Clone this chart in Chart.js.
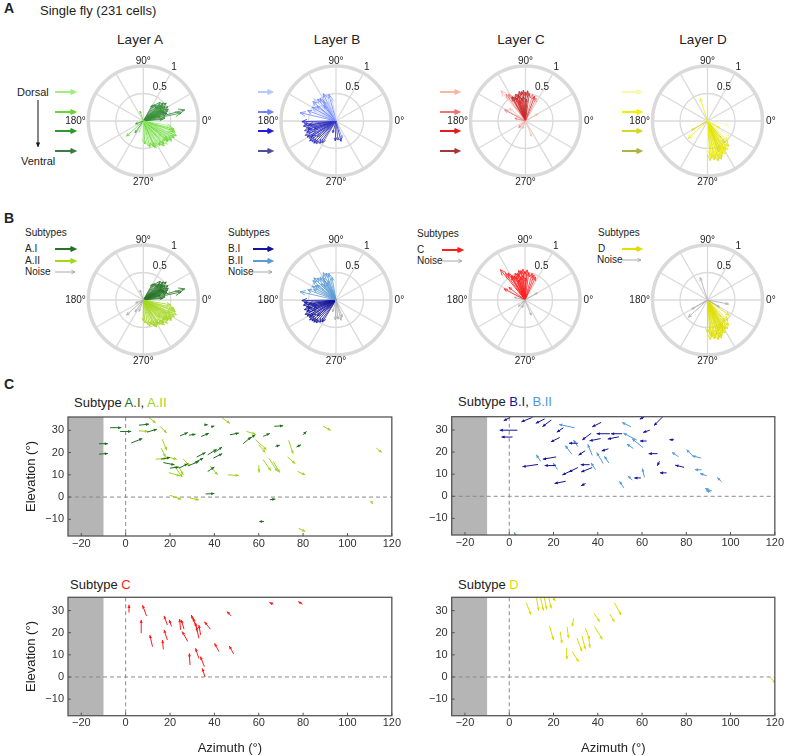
<!DOCTYPE html>
<html>
<head>
<meta charset="utf-8">
<title>Single fly receptive fields</title>
<script src="https://cdn.jsdelivr.net/npm/chart.js@4.4.1/dist/chart.umd.min.js"></script>
<style>
  body { margin: 0; background: #fff; }
  #fig { position: relative; width: 785px; height: 756px; overflow: hidden; font-family: "Liberation Sans", Arial, sans-serif; color: #222; }
  #fig canvas { position: absolute; }
  .lbl { position: absolute; white-space: nowrap; }
</style>
</head>
<body>
<div id="fig"></div>
<script>
// polar arrows: [direction (deg), length, depth sublayer 0 = dorsal .. 3 = ventral, subtype 0 = I, 1 = II, 2 = noise]
const layerA = [
  [15,0.78,3,0],[12,0.70,2,0],[18,0.45,3,0],[22,0.48,2,0],[25,0.50,3,0],[28,0.42,2,0],[30,0.52,2,0],[33,0.47,3,0],
  [35,0.40,2,0],[38,0.53,3,0],[40,0.44,2,0],[42,0.49,3,0],[45,0.41,2,0],[48,0.46,2,0],[52,0.38,3,0],[56,0.36,2,0],
  [60,0.33,3,0],[20,0.43,3,0],[27,0.39,2,0],[36,0.45,2,0],[44,0.37,3,0],[31,0.35,2,0],[24,0.41,3,0],[16,0.32,2,0],
  [5,0.35,2,0],[8,0.40,3,0],
  [-10,0.50,0,1],[-15,0.58,1,1],[-20,0.62,0,1],[-24,0.66,1,1],[-28,0.64,1,1],[-32,0.60,0,1],[-36,0.63,0,1],
  [-40,0.58,1,1],[-44,0.61,0,1],[-48,0.56,1,1],[-52,0.57,0,1],[-56,0.54,1,1],[-60,0.52,0,1],[-64,0.55,0,1],
  [-68,0.50,1,1],[-72,0.47,0,1],[-76,0.49,1,1],[-80,0.45,0,1],[-18,0.60,1,1],[-26,0.55,0,1],[-34,0.62,1,1],
  [-42,0.52,0,1],[-50,0.59,1,1],[-58,0.50,0,1],[-66,0.53,1,1],[-30,0.48,0,1],[-38,0.57,1,1],[-46,0.44,0,1],
  [-86,0.42,1,1],[-90,0.38,0,1],
  [222,0.41,1,2],[235,0.26,2,2],[108,0.19,1,2],[250,0.22,0,2],[200,0.15,2,2]
];
const layerB = [
  [181,0.62,2,0],[185,0.58,3,0],[189,0.60,2,0],[193,0.55,3,0],[197,0.60,3,0],[201,0.57,2,0],[205,0.62,3,0],
  [209,0.60,2,0],[213,0.58,3,0],[217,0.60,2,0],[221,0.58,3,0],[225,0.57,2,0],[229,0.55,3,0],[234,0.50,2,0],
  [238,0.47,3,0],[188,0.50,2,0],[196,0.53,2,0],[204,0.48,3,0],[212,0.52,2,0],[220,0.45,3,0],[192,0.44,3,0],
  [200,0.42,2,0],
  [100,0.42,0,1],[105,0.50,1,1],[110,0.52,0,1],[115,0.55,1,1],[120,0.48,0,1],[125,0.50,1,1],[130,0.52,1,1],
  [135,0.57,0,1],[140,0.55,1,1],[145,0.46,0,1],[150,0.50,1,1],[155,0.45,0,1],[160,0.55,1,1],[167,0.67,1,1],
  [112,0.38,0,1],[122,0.42,1,1],[132,0.40,0,1],[142,0.44,1,1],[118,0.35,0,1],[128,0.36,1,1],
  [268,0.36,2,2],[276,0.35,3,2],[284,0.38,2,2],[290,0.33,1,2],[255,0.22,2,2]
];
const layerC = [
  [82,0.50,3,0],[86,0.55,2,0],[90,0.52,2,0],[94,0.56,3,0],[98,0.54,2,0],[102,0.55,3,0],[106,0.50,2,0],
  [110,0.52,2,0],[114,0.48,3,0],[118,0.50,2,0],[122,0.58,1,0],[126,0.60,1,0],[129,0.71,0,0],[95,0.45,3,0],
  [100,0.42,2,0],[105,0.48,3,0],[112,0.44,2,0],[120,0.50,3,0],[75,0.50,1,0],[70,0.48,2,0],[65,0.46,1,0],
  [88,0.40,3,0],[108,0.38,2,0],[142,0.37,0,0],[152,0.43,1,0],
  [30,0.26,0,2],[292,0.30,0,2],[224,0.17,1,2],[166,0.20,1,2],[250,0.15,0,2]
];
const layerD = [
  [-45,0.52,1,0],[-50,0.60,2,0],[-55,0.64,1,0],[-58,0.62,2,0],[-62,0.68,1,0],[-65,0.66,2,0],[-68,0.70,1,0],
  [-70,0.74,2,0],[-72,0.72,1,0],[-75,0.75,2,0],[-78,0.70,1,0],[-80,0.72,2,0],[-83,0.68,1,0],[-86,0.72,2,0],
  [-90,0.60,0,0],[-60,0.55,1,0],[-66,0.58,2,0],[-74,0.64,1,0],[-52,0.50,2,0],[-35,0.48,0,0],[-84,0.65,1,0],
  [-70,0.60,2,0],[-63,0.62,1,0],
  [108,0.43,1,2],[222,0.47,1,2],[-11,0.39,0,2],[210,0.33,2,2],[-30,0.25,1,2]
];

// quiver arrows: [azimuth (deg), elevation (deg), d azimuth, d elevation]
const quivAI = [
  [-7,31.2,5,0],[-12,24,4,0],[-12,19.3,4,0.3],[-2.5,29.5,5,0],[2.5,24.3,5,2],[6,32.3,4.5,0.5],[9.6,29.2,4.5,1.3],
  [24.5,27.5,3.5,1.5],[28.5,27.8,3,0.5],[34,27.2,3.5,1.5],[35.5,32.5,1.5,0],[38.5,31.5,1.5,0.5],[32,18,4,2],
  [37,19,4,2.5],[40,20,3.5,2.5],[39.5,17.5,4,2],[24,13,4,2],[28,14,5,2],[31,15.5,4,2],[17,15.5,5,-1],[20,13,4,0.5],
  [37,11.5,3,2],[36,1.4,4,0.2],[47,28,4,0.8],[53,24,3.5,3],[55.5,26,3,2],[62,27.3,3,1.3],[67,31.8,4,0.3],
  [67.5,22.8,2,0.5],[77,22.5,2,1],[80,28,1.5,1.5],[65,-1.2,2.5,0.3],[60.3,-11,2,0],[16,17,4,0.8]
];
const quivAII = [
  [10.5,35.8,3,-2.5],[15.5,31.8,3,-3],[16.5,26,2,-5],[16,22,2,-4],[13.5,17,5,0.5],[19,18,4,-1],[19.5,11,5,-1.5],
  [22,14,3.5,-5],[26,17,3,-3],[20,0.8,5,-1.8],[29,-0.4,4,-0.9],[38,14,3.5,-4],[46,10,5,-0.3],[43.5,35.6,3.5,-2.5],
  [54.5,29.5,4,-1.2],[58.5,25.8,5,-4.5],[60,23.5,3,-3.5],[62,16.8,3.5,-5],[64.5,17.5,4,-6],[66.5,16,3,-5],
  [60,14.3,0.2,-3.3],[73.5,25.5,2,-6],[73,18,3.5,-3],[77.5,11.5,3.5,-1.5],[89,31.8,3.5,-1.8],[113,22,2.5,-2],
  [111,-2.5,0.3,-0.6],[78,-14,3,-1.5],[24,13.5,2,-3.5],[6,29.8,4,-0.3]
];
const quivBI = [
  [0.5,35.7,-3,-1.5],[3.7,29.9,-8,0],[1.5,26.8,-5,0],[10.5,35.7,-5,-2],[16,35,-4,-2],[19,34.5,-4,-3],[24.5,31,-3,-2],
  [22.8,26.6,-4,-2],[31,24,-4,0],[34.3,20.6,-3,-2],[37,28.5,-4,-3],[41.5,33.4,-4,-2],[41.3,26.1,-5,-1],[45.5,28.3,-6,0],
  [51,28.3,-5,0],[49.5,26.9,-5,-1],[62.1,25,-3,0],[61,35.9,-2,-1],[69.4,36,-4,-4],[63.5,29.9,-3,-1],[67,19.3,-4,0],
  [67.9,15.8,-1,-2],[71.1,10.6,-3,0],[74.4,25.6,-2,0],[79,13.1,-4,1],[13,14.4,-7,-1],[21,13.9,-5,0],[21.2,17.8,-6,-1],
  [25.5,6.8,-5,-1],[28,11.6,-4,-2],[31,13,-4,-2],[37.5,13,-5,-2],[34.5,5.8,-2,-1],[36.3,14.3,-4,0],[44.8,21.5,-3,-1],
  [59.5,8.3,-3,0]
];
const quivBII = [
  [29.5,31,-7,1.5],[28.3,19,-3,4],[37.5,18.5,-2,5],[57.6,25.5,-6,3],[55,31.4,-4,2],[60.5,22,-5,4],[56.1,21.6,-3,2],
  [76.5,17.9,-3,2],[83.1,18.1,-3,3],[86.7,17.3,-4,1],[86.9,12,-3,0],[89.2,9.3,-3,1],[91.5,2.5,-3,1],[91,2,-2,0.5],
  [96,6.5,-2,2],[14.2,15.8,-2,3],[21.8,12.1,-2,3],[39,12.1,-2,3],[42.5,14.8,-3,5],[45,15.1,-2,3],[51.8,3.8,-2,3],
  [55.6,7.3,-2,2],[61.1,8.6,-1,4],[3.2,-18.3,-1,2],[31,22.5,-2,3]
];
const quivC = [
  [1.5,29.1,0,3.5],[9.4,27.6,-1.8,4.8],[7,19.8,0,6],[12.1,13.7,-1.2,5.3],[17,12.5,-0.4,4.2],[18.8,16.7,-1.5,4.6],
  [18.8,23.5,-1.5,4.1],[20.7,22.8,-1.1,3],[24.8,21.3,-0.5,4.9],[26.3,21.6,-1.2,4.2],[28,16,-2.5,4.5],[29,5.4,-0.3,5.3],
  [33,8.4,-1.5,4.6],[35.5,4.7,-1.8,4.5],[35.8,0,-1.3,3.9],[30.7,25,-1.1,3],[31.5,22.8,-1,3.8],[33,17.5,-1.1,5.3],
  [33.8,19,-0.8,4.5],[38.2,21.6,-2.7,3.4],[42,11.5,-1.9,3.7],[48.7,10.4,-2,3.6],[47.5,27.6,-1.8,2],[66.6,32.9,-1.8,0.7],
  [79.7,32.9,-1.9,1.2],[32.2,20.5,-0.7,4]
];
const quivD = [
  [7.7,33.6,2.1,-5.5],[12.2,36.5,1.1,-6.5],[14,36.5,1.5,-6.5],[15.8,36,1.2,-5.5],[17.8,36,1.2,-5],[20,35.5,0.8,-1.2],
  [18.2,23,1.8,-6.3],[23,20.5,0.8,-5.3],[26.1,22.8,0.7,-5.3],[29.1,26.5,-0.7,-3.7],[25.8,13,0.3,-5],[28.4,11.5,3,-4.6],
  [30.6,17.5,2.3,-6],[32.9,18.5,1.5,-6],[34.4,22,1.9,-5],[35.9,18.5,0.5,-5.3],[38.2,28.8,2.7,-3.8],[38.5,22.8,3.6,-5.8],
  [45.4,28.5,2.1,-3.6],[47.5,33.6,3,-5.6],[118,-0.2,2.3,-2.7]
];

const azTicks = [-20, 0, 20, 40, 60, 80, 100, 120];
const elTicks = [-10, 0, 10, 20, 30];
const compassLabels = ['90°', '0°', '180°', '270°'];
const radiusLabels = ['0.5', '1'];

const depthColors = {
  A: ['#a0ee80', '#66d630', '#2e9a2e', '#3d7d45'],
  B: ['#b9c9ff', '#6f84ff', '#1e1ee0', '#50509a'],
  C: ['#f6b8a8', '#f47272', '#e41c1c', '#a83838'],
  D: ['#f9f9ae', '#f0f000', '#d8d820', '#b2b244']
};
const subtypeColors = {
  A: ['#267326', '#a4d81e', '#aaaaaa'],
  B: ['#14149a', '#5b9bd6', '#aaaaaa'],
  C: ['#ff1e1e', '#ff1e1e', '#aaaaaa'],
  D: ['#dede00', '#dede00', '#aaaaaa']
};

const FONT = "'Liberation Sans', Arial, sans-serif";
Chart.defaults.font.family = FONT;
const fig = document.getElementById('fig');
const rad = Math.PI / 180;
const R = 55; // px for a vector of length 1

function label(html, x, yc, size, opts = {}) {
  const d = document.createElement('div');
  d.className = 'lbl';
  d.innerHTML = html;
  d.style.left = x + 'px';
  d.style.top = (yc - size / 2) + 'px';
  d.style.fontSize = size + 'px';
  d.style.lineHeight = size + 'px';
  if (opts.bold) d.style.fontWeight = 'bold';
  if (opts.center) d.style.transform = 'translateX(-50%)';
  fig.appendChild(d);
}

function makeCanvas(box) {
  const c = document.createElement('canvas');
  c.width = box.w;
  c.height = box.h;
  c.style.left = box.x + 'px';
  c.style.top = box.y + 'px';
  c.style.width = box.w + 'px';
  c.style.height = box.h + 'px';
  fig.appendChild(c);
  return c;
}

function arrow(ctx, x0, y0, x1, y1, head, spread, filled) {
  const a = Math.atan2(y1 - y0, x1 - x0);
  ctx.beginPath();
  ctx.moveTo(x0, y0);
  ctx.lineTo(x1, y1);
  ctx.stroke();
  ctx.beginPath();
  ctx.moveTo(x1 - head * Math.cos(a - spread), y1 - head * Math.sin(a - spread));
  ctx.lineTo(x1, y1);
  ctx.lineTo(x1 - head * Math.cos(a + spread), y1 - head * Math.sin(a + spread));
  if (filled) { ctx.closePath(); ctx.fill(); } else ctx.stroke();
}

// compass plot (scatter with equal scales, arrows from the origin)
function polar(box, cx, cy, rows, colorOf, legend) {
  const canvas = makeCanvas(box);
  const pts = rows.map(r => ({ x: r[1] * Math.cos(r[0] * rad), y: r[1] * Math.sin(r[0] * rad) }));
  const cols = rows.map(colorOf);
  return new Chart(canvas, {
    type: 'scatter',
    data: { datasets: [{ data: pts, pointRadius: 0, pointBorderColor: cols }] },
    options: {
      responsive: false, animation: false, events: [],
      layout: { padding: 0 },
      plugins: { legend: { display: false }, tooltip: { enabled: false } },
      scales: {
        x: { display: false, min: (box.x - cx) / R, max: (box.x + box.w - cx) / R },
        y: { display: false, min: (cy - box.y - box.h) / R, max: (cy - box.y) / R }
      }
    },
    plugins: [{
      id: 'compass',
      beforeDatasetsDraw(chart) {
        const { ctx, scales: { x, y } } = chart;
        const ox = x.getPixelForValue(0), oy = y.getPixelForValue(0);
        const pr = v => x.getPixelForValue(v) - ox;
        ctx.save();
        ctx.strokeStyle = '#dadada';
        ctx.lineWidth = 1.3;
        for (let a = 0; a < 360; a += 30) {
          ctx.beginPath();
          ctx.moveTo(ox, oy);
          ctx.lineTo(x.getPixelForValue(Math.cos(a * rad)), y.getPixelForValue(Math.sin(a * rad)));
          ctx.stroke();
        }
        ctx.beginPath(); ctx.arc(ox, oy, pr(0.5), 0, 2 * Math.PI); ctx.stroke();
        ctx.lineWidth = 3.5;
        ctx.beginPath(); ctx.arc(ox, oy, pr(1), 0, 2 * Math.PI); ctx.stroke();

        ctx.fillStyle = '#222';
        ctx.font = '10px ' + FONT;
        ctx.textBaseline = 'middle';
        ctx.textAlign = 'center';
        ctx.fillText(compassLabels[0], ox, oy - pr(1.09));
        ctx.fillText(compassLabels[3], ox, oy + pr(1.11));
        ctx.textAlign = 'left';
        ctx.fillText(compassLabels[1], ox + pr(1.065), oy);
        ctx.textAlign = 'right';
        ctx.fillText(compassLabels[2], ox - pr(1.045), oy);
        ctx.textAlign = 'center';
        ctx.fillText(radiusLabels[0], x.getPixelForValue(0.30), y.getPixelForValue(0.62));
        ctx.fillText(radiusLabels[1], x.getPixelForValue(0.56), y.getPixelForValue(0.98));
        ctx.restore();
      },
      afterDatasetsDraw(chart) {
        const { ctx, scales: { x, y } } = chart;
        const ox = x.getPixelForValue(0), oy = y.getPixelForValue(0);
        ctx.save();
        ctx.lineWidth = 0.8;
        chart.getDatasetMeta(0).data.forEach(el => {
          const L = Math.hypot(el.x - ox, el.y - oy);
          ctx.strokeStyle = el.options.borderColor;
          arrow(ctx, ox, oy, el.x, el.y, Math.max(2.5, 0.16 * L), 0.4, false);
        });
        // legend arrows (page coordinates)
        legend.forEach(it => {
          ctx.strokeStyle = it.color;
          ctx.fillStyle = it.color;
          ctx.lineWidth = it.w;
          arrow(ctx, it.x0 - box.x, it.y0 - box.y, it.x1 - box.x, it.y1 - box.y, it.head, 0.45, it.filled);
        });
        ctx.restore();
      }
    }]
  });
}

function legendRow(x0, x1, y, color, w) {
  return { x0, x1, y0: y, y1: y, color, w, head: w > 1.2 ? 5 : 4, filled: false };
}

// quiver plot on azimuth / elevation axes
function quiver(box, area, sets, xTitle, yTitle) {
  const canvas = makeCanvas(box);
  const datasets = sets.map(s => ({
    data: s.rows.map(r => ({ x: r[0], y: r[1], u: r[2], v: r[3] })),
    pointRadius: 0,
    borderColor: s.color
  }));
  const fmt = v => (v < 0 ? '\u2212' + Math.abs(v) : String(v));
  return new Chart(canvas, {
    type: 'scatter',
    data: { datasets },
    options: {
      responsive: false, animation: false, events: [],
      layout: { padding: { top: area.t - box.y, right: box.x + box.w - area.r, left: 0, bottom: 0 } },
      plugins: { legend: { display: false }, tooltip: { enabled: false } },
      scales: {
        x: {
          type: 'linear', min: -26, max: 120,
          afterBuildTicks: s => { s.ticks = azTicks.map(v => ({ value: v })); },
          ticks: { padding: 1, color: '#333', font: { size: 11 }, callback: fmt, maxRotation: 0 },
          grid: { display: false, drawTicks: false },
          border: { display: false },
          title: { display: xTitle, text: 'Azimuth (°)', color: '#222', font: { size: 13 }, padding: 0 },
          afterFit: s => { s.height = box.y + box.h - area.b; }
        },
        y: {
          type: 'linear', min: -17.5, max: 36,
          afterBuildTicks: s => { s.ticks = elTicks.map(v => ({ value: v })); },
          ticks: { padding: 4, color: '#333', font: { size: 11 }, callback: fmt },
          grid: { display: false, drawTicks: false },
          border: { display: false },
          title: { display: yTitle, text: 'Elevation (°)', color: '#222', font: { size: 13 }, padding: { top: 24, bottom: 0 } },
          afterFit: s => { s.width = area.l - box.x; }
        }
      }
    },
    plugins: [{
      id: 'quiver',
      beforeDatasetsDraw(chart) {
        const { ctx, chartArea: ca, scales: { x, y } } = chart;
        ctx.save();
        ctx.beginPath(); ctx.rect(ca.left, ca.top, ca.width, ca.height); ctx.clip();
        ctx.fillStyle = '#b5b5b5';
        ctx.fillRect(ca.left, ca.top, x.getPixelForValue(-10) - ca.left, ca.height);
        ctx.strokeStyle = '#8a8a8a';
        ctx.lineWidth = 1;
        ctx.setLineDash([4, 3]);
        ctx.beginPath();
        ctx.moveTo(x.getPixelForValue(0), ca.top); ctx.lineTo(x.getPixelForValue(0), ca.bottom);
        ctx.moveTo(ca.left, y.getPixelForValue(0)); ctx.lineTo(ca.right, y.getPixelForValue(0));
        ctx.stroke();
        ctx.restore();
      },
      afterDatasetsDraw(chart) {
        const { ctx, chartArea: ca, scales: { x, y } } = chart;
        ctx.save();
        ctx.beginPath(); ctx.rect(ca.left, ca.top, ca.width, ca.height); ctx.clip();
        ctx.lineWidth = 1;
        chart.data.datasets.forEach(ds => {
          ctx.strokeStyle = ds.borderColor;
          ctx.fillStyle = ds.borderColor;
          ds.data.forEach(p => {
            arrow(ctx, x.getPixelForValue(p.x), y.getPixelForValue(p.y),
              x.getPixelForValue(p.x + p.u), y.getPixelForValue(p.y + p.v), 3.5, 0.45, true);
          });
        });
        ctx.restore();
        ctx.save();
        ctx.strokeStyle = '#555';
        ctx.lineWidth = 1.3;
        ctx.strokeRect(ca.left, ca.top, ca.width, ca.height);
        ctx.lineWidth = 1;
        ctx.beginPath();
        azTicks.forEach(v => {
          const px = x.getPixelForValue(v);
          ctx.moveTo(px, ca.bottom); ctx.lineTo(px, ca.bottom - 3);
        });
        elTicks.forEach(v => {
          const py = y.getPixelForValue(v);
          ctx.moveTo(ca.left, py); ctx.lineTo(ca.left + 3, py);
        });
        ctx.stroke();
        ctx.restore();
      }
    }]
  });
}

// ---- panel A ----
label('<b>A</b>', 4, 8, 14);
label('Single fly (231 cells)', 40, 10, 13);
label('Layer A', 140, 40, 13.5, { center: true });
label('Layer B', 337, 40, 13.5, { center: true });
label('Layer C', 521, 40, 13.5, { center: true });
label('Layer D', 703, 40, 13.5, { center: true });
label('Dorsal', 17, 92, 11);
label('Ventral', 21, 161, 11);

const depthY = [92, 112, 131, 151];
const depthLegend = (x0, x1, cols) => depthY.map((y, i) => legendRow(x0, x1, y, cols[i], 2));

polar({ x: 15, y: 48, w: 222, h: 150 }, 143.3, 121, layerA, r => depthColors.A[r[2]],
  depthLegend(55, 75, depthColors.A).concat([{ x0: 38, x1: 38, y0: 100, y1: 147, color: '#111', w: 1, head: 5, filled: true }]));
polar({ x: 240, y: 48, w: 180, h: 150 }, 336, 121, layerB, r => depthColors.B[r[2]], depthLegend(258, 272, depthColors.B));
polar({ x: 425, y: 48, w: 175, h: 150 }, 525.5, 121, layerC, r => depthColors.C[r[2]], depthLegend(440, 459, depthColors.C));
polar({ x: 605, y: 48, w: 180, h: 150 }, 707.5, 121, layerD, r => depthColors.D[r[2]], depthLegend(622, 641, depthColors.D));

// ---- panel B ----
label('<b>B</b>', 4, 218, 14);
[['A.I', 'A.II', 'Noise', 25], ['B.I', 'B.II', 'Noise', 228]].forEach(([a, b, c, x]) => {
  label('Subtypes', x, 233, 10);
  label(a, x, 249, 10);
  label(b, x, 261, 10);
  label(c, x, 272, 10);
});
label('Subtypes', 417, 234, 10);
label('C', 417, 250, 10);
label('Noise', 417, 261, 10);
label('Subtypes', 598, 233, 10);
label('D', 598, 249, 10);
label('Noise', 597, 260, 10);

polar({ x: 15, y: 225, w: 222, h: 160 }, 143.3, 300, layerA, r => subtypeColors.A[r[3]], [
  legendRow(55, 75, 249, subtypeColors.A[0], 2), legendRow(55, 75, 261, subtypeColors.A[1], 2), legendRow(55, 75, 272, subtypeColors.A[2], 1)]);
polar({ x: 240, y: 225, w: 180, h: 160 }, 336, 300, layerB, r => subtypeColors.B[r[3]], [
  legendRow(253, 272, 249, subtypeColors.B[0], 2), legendRow(253, 272, 261, subtypeColors.B[1], 2), legendRow(249, 272, 272, subtypeColors.B[2], 1)]);
polar({ x: 425, y: 225, w: 175, h: 160 }, 525, 300, layerC, r => subtypeColors.C[r[3]], [
  legendRow(442, 462, 250, subtypeColors.C[0], 2), legendRow(442, 462, 261, subtypeColors.C[2], 1)]);
polar({ x: 605, y: 225, w: 180, h: 160 }, 707.5, 300, layerD, r => subtypeColors.D[r[3]], [
  legendRow(622, 641, 249, subtypeColors.D[0], 2), legendRow(622, 641, 260, subtypeColors.D[2], 1)]);

// ---- panel C ----
label('<b>C</b>', 4, 384, 14);
label('Subtype <span style="color:#1f6f1f">A.I</span>, <span style="color:#9fd21e">A.II</span>', 74, 402, 13);
label('Subtype <span style="color:#14149a">B.I</span>, <span style="color:#4f98d8">B.II</span>', 458, 401, 13);
label('Subtype <span style="color:#ff1a1a">C</span>', 70, 584, 13);
label('Subtype <span style="color:#dcdc00">D</span>', 458, 584, 13);

quiver({ x: 0, y: 395, w: 402, h: 160 }, { l: 68, t: 417, r: 392, b: 536 },
  [{ rows: quivAII, color: '#9fd21e' }, { rows: quivAI, color: '#1f6f1f' }], false, true);
quiver({ x: 395, y: 395, w: 390, h: 160 }, { l: 451.7, t: 416.7, r: 775.7, b: 535 },
  [{ rows: quivBII, color: '#4f98d8' }, { rows: quivBI, color: '#14149a' }], false, false);
quiver({ x: 0, y: 578, w: 402, h: 178 }, { l: 68, t: 597.3, r: 392, b: 715.7 },
  [{ rows: quivC, color: '#ff1a1a' }], true, true);
quiver({ x: 395, y: 578, w: 390, h: 178 }, { l: 451.7, t: 597.3, r: 775.7, b: 715.7 },
  [{ rows: quivD, color: '#dcdc00' }], true, false);
</script>
</body>
</html>
